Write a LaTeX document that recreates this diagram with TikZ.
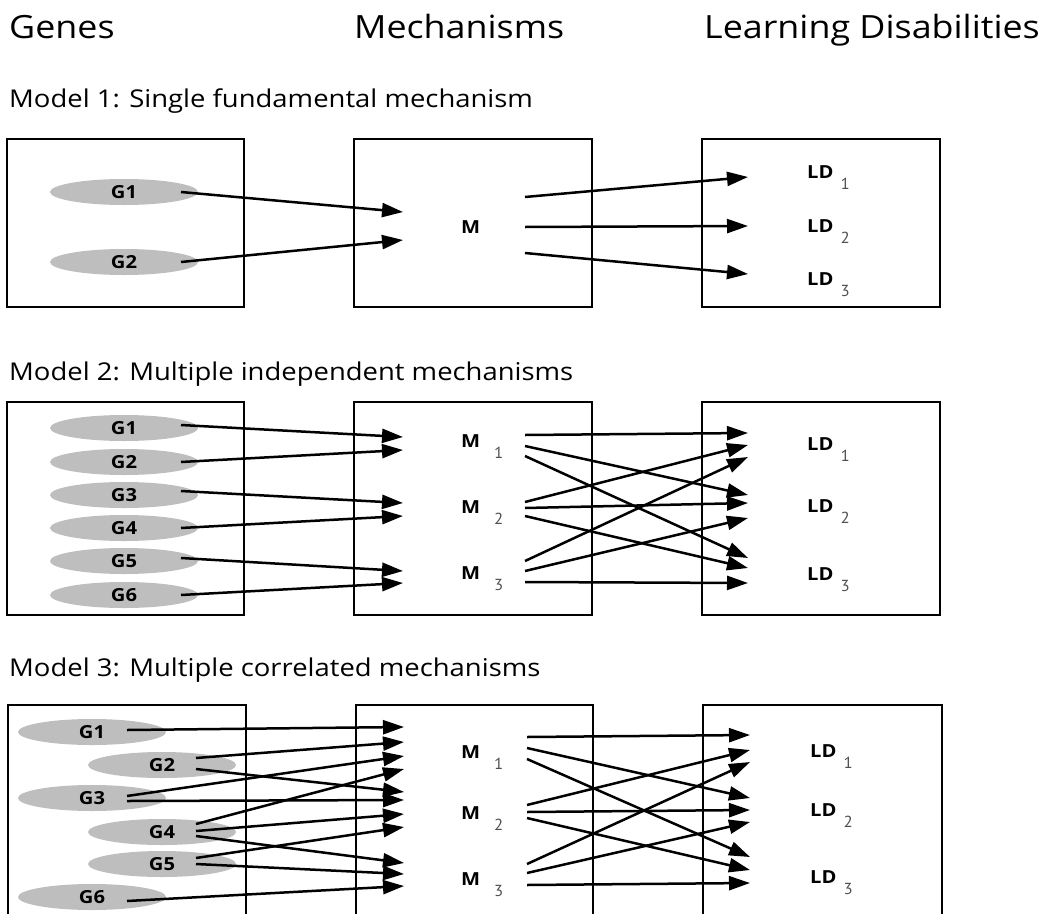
\documentclass[tikz,border=0pt]{standalone}
\usepackage{fontspec}
\setmainfont{Open Sans}[FakeStretch=1.12]
\newfontfamily\subfam{PT Sans}[FakeStretch=1.05]
\usetikzlibrary{arrows.meta,shapes.geometric}
\definecolor{ellgray}{RGB}{190,190,190}
\definecolor{subgray}{RGB}{80,80,80}
\newcommand{\hdfont}{\fontsize{32}{36}\selectfont}
\newcommand{\mdfont}{\fontsize{24.5}{28}\selectfont}
\newcommand{\lbfont}{\fontsize{18}{20}\selectfont\bfseries}
\newcommand{\sbfont}{\subfam\fontsize{16}{18}\selectfont\color{subgray}}
\newcommand{\mlab}[3]{{\lbfont #1}\hspace{#3}\raisebox{-11pt}{\sbfont #2}}
\begin{document}
\begin{tikzpicture}[x=1pt,y=-1pt,
  box/.style={draw, line width=2.8pt},
  gene/.style={ellipse, fill=ellgray, minimum width=148pt, minimum height=26pt, inner sep=0pt, font=\lbfont},
  arr/.style={line width=2.5pt, -{Triangle[length=21pt,width=14pt]}},
  txt/.style={inner sep=0pt, anchor=base west}]
\useasboundingbox (0,0) rectangle (1049,913);
\clip (0,0) rectangle (1049,913);

% headers
\node[txt, font=\hdfont] (hg) at (9,38) {Genes};
\node[txt, font=\hdfont] (hm) at (354,38) {Mechanisms};
\node[txt, font=\hdfont] (hl) at (704,38) {Learning Disabilities};
\node[txt, font=\mdfont] (t1) at (9,107) {Model 1: Single fundamental mechanism};
\node[txt, font=\mdfont] (t2) at (9,380) {Model 2: Multiple independent mechanisms};
\node[txt, font=\mdfont] (t3) at (9,676) {Model 3: Multiple correlated mechanisms};

% ---------- Model 1 ----------
\draw[box] (7,139) rectangle (244,307);
\draw[box] (354,139) rectangle (592,307);
\draw[box] (702,139) rectangle (940,307);
\node[gene] (A-g1) at (124,192) {G1};
\node[gene] (A-g2) at (124,262) {G2};
\node[txt] (A-m) at (461,233) {\lbfont M};
\node[txt] (A-ld1) at (807,178) {\mlab{LD}{1}{7pt}};
\node[txt] (A-ld2) at (807,232) {\mlab{LD}{2}{7pt}};
\node[txt] (A-ld3) at (807,285) {\mlab{LD}{3}{7pt}};
\foreach \n/\x/\y in {A-s1/181/192, A-s2/181/262, A-t1/403/212, A-t2/403/240,
  A-r1/525/197, A-r2/525/227, A-r3/525/253, A-u1/748/177, A-u2/748/226, A-u3/748/274}
  \coordinate (\n) at (\x,\y);
\foreach \a/\b in {A-s1/A-t1, A-s2/A-t2, A-r1/A-u1, A-r2/A-u2, A-r3/A-u3}
  \draw[arr] (\a) -- (\b);

% ---------- Model 2 ----------
\draw[box] (7,402) rectangle (244,615);
\draw[box] (354,402) rectangle (592,615);
\draw[box] (702,402) rectangle (940,615);
\foreach \i/\y in {1/428, 2/462, 3/495, 4/528, 5/561, 6/595}
  \node[gene] (B-g\i) at (124,\y) {G\i};
\node[txt] (B-m1) at (461,447) {\mlab{M}{1}{14pt}};
\node[txt] (B-m2) at (461,513) {\mlab{M}{2}{14pt}};
\node[txt] (B-m3) at (461,579) {\mlab{M}{3}{14pt}};
\node[txt] (B-ld1) at (807,450) {\mlab{LD}{1}{7pt}};
\node[txt] (B-ld2) at (807,512) {\mlab{LD}{2}{7pt}};
\node[txt] (B-ld3) at (807,580) {\mlab{LD}{3}{7pt}};
\foreach \n/\x/\y in {B-s1/181/425, B-s2/181/462, B-s3/181/491, B-s4/181/528, B-s5/181/558, B-s6/181/595,
  B-t1/403/437, B-t2/403/450, B-t3/403/503, B-t4/403/516, B-t5/403/571, B-t6/403/583,
  B-r1/525/435, B-r2/525/446, B-r3/525/456, B-r4/525/502, B-r5/525/508, B-r6/525/516,
  B-r7/525/561, B-r8/525/571, B-r9/525/582,
  B-u1/748/433, B-u2/748/445, B-u3/748/457, B-u4/748/495, B-u5/748/503, B-u6/748/518,
  B-u7/748/558, B-u8/748/568, B-u9/748/583}
  \coordinate (\n) at (\x,\y);
\foreach \a/\b in {B-s1/B-t1, B-s2/B-t2, B-s3/B-t3, B-s4/B-t4, B-s5/B-t5, B-s6/B-t6,
  B-r1/B-u1, B-r2/B-u4, B-r3/B-u7, B-r4/B-u2, B-r5/B-u5, B-r6/B-u8, B-r7/B-u3, B-r8/B-u6, B-r9/B-u9}
  \draw[arr] (\a) -- (\b);

% ---------- Model 3 ----------
\draw[box] (8,705) rectangle (246,940);
\draw[box] (356,705) rectangle (593,940);
\draw[box] (703,705) rectangle (942,940);
\foreach \i/\x/\y in {1/92/732, 2/162/765, 3/92/798, 4/162/832, 5/162/864, 6/92/897}
  \node[gene] (C-g\i) at (\x,\y) {G\i};
\node[txt] (C-m1) at (461,758) {\mlab{M}{1}{14pt}};
\node[txt] (C-m2) at (461,819) {\mlab{M}{2}{14pt}};
\node[txt] (C-m3) at (461,885) {\mlab{M}{3}{14pt}};
\node[txt] (C-ld1) at (810,757) {\mlab{LD}{1}{7pt}};
\node[txt] (C-ld2) at (810,816) {\mlab{LD}{2}{7pt}};
\node[txt] (C-ld3) at (810,883) {\mlab{LD}{3}{7pt}};
\foreach \n/\x/\y in {C-s1/127/730, C-s2a/196/758, C-s2b/196/769, C-s3a/127/796, C-s3b/127/801,
  C-s4a/196/824, C-s4b/196/831, C-s4c/196/836, C-s5a/196/858, C-s5b/196/864, C-s6/127/901,
  C-t1/404/727, C-t2/404/742, C-t3/404/756, C-t4/404/769, C-t5/404/792, C-t6/404/800,
  C-t7/404/814, C-t8/404/827, C-t9/404/863, C-t10/404/874, C-t11/404/886,
  C-r1/527/737, C-r2/527/748, C-r3/527/759, C-r4/527/805, C-r5/527/812, C-r6/527/818,
  C-r7/527/864, C-r8/527/873, C-r9/527/885,
  C-u1/750/735, C-u2/750/750, C-u3/750/762, C-u4/750/798, C-u5/750/810, C-u6/750/822,
  C-u7/750/857, C-u8/750/870, C-u9/750/883}
  \coordinate (\n) at (\x,\y);
\foreach \a/\b in {C-s1/C-t1, C-s2a/C-t2, C-s3a/C-t3, C-s4a/C-t4, C-s2b/C-t5, C-s3b/C-t6,
  C-s4b/C-t7, C-s5a/C-t8, C-s4c/C-t9, C-s5b/C-t10, C-s6/C-t11,
  C-r1/C-u1, C-r2/C-u4, C-r3/C-u7, C-r4/C-u2, C-r5/C-u5, C-r6/C-u8, C-r7/C-u3, C-r8/C-u6, C-r9/C-u9}
  \draw[arr] (\a) -- (\b);
\end{tikzpicture}
\end{document}
